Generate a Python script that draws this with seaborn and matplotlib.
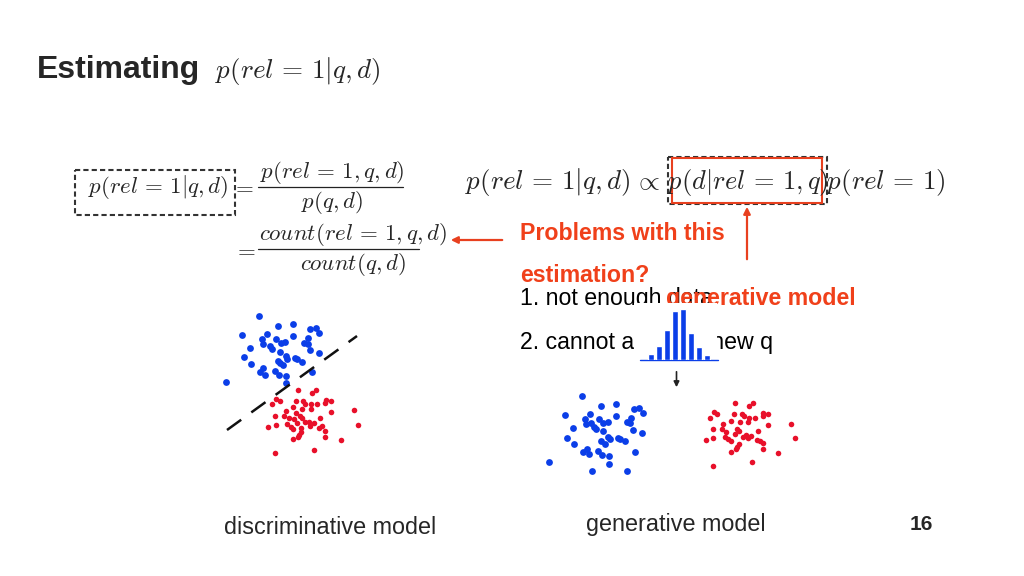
import numpy as np
import pandas as pd
import seaborn as sns
import matplotlib.pyplot as plt
from matplotlib.patches import Rectangle

# scatter points (pixel coords)
disc_blue_x = [259.3, 241.7, 277.7, 293.3, 310.3, 316, 319.3, 293, 266.7, 262.3, 276, 281, 285.3, 262.7,
               270, 272, 250, 304.3, 308.3, 307.7, 309.7, 280, 243.7, 286, 287, 277.7, 294.7, 297.3, 302,
               319, 251, 280.3, 282.7, 263.3, 260, 265.3, 275.3, 279.3, 286.3, 312.3, 286, 226.3]
disc_blue_y = [315.7, 335, 326, 324.3, 329, 328.3, 332.7, 336, 334.3, 338.7, 339.3, 342.7, 342.3, 344.3,
               346, 349.3, 347.7, 342.7, 338.3, 344, 350, 351.7, 357.3, 356, 359.3, 361, 358.3, 359.3, 361.7,
               353.3, 364, 363.3, 365, 368.3, 372.3, 374.7, 371, 375.3, 375.7, 372.3, 383, 382]
disc_red_x = [297.7, 316, 311.7, 276.3, 280, 271.7, 296, 303.3, 305.3, 311, 317.3, 325.7, 330.7, 325.3,
              293, 302.3, 311.3, 286.3, 275.3, 284, 288.7, 300, 302.3, 296, 330.7, 353.7, 320, 293.7, 304.7,
              297.3, 309.3, 314.3, 287, 276, 268, 290.7, 293.3, 301.3, 310, 319, 322, 325.3, 358, 301, 299.3,
              298, 325.3, 293.3, 341.3, 314.3, 275.3]
disc_red_y = [390.3, 390, 393.3, 399, 401, 404.3, 400.7, 401, 403.7, 404.3, 404.3, 400, 400.7, 403.3,
              407.3, 409, 409, 410.7, 416, 416, 418.3, 416, 418.3, 412.7, 412, 410.3, 417.7, 419.3, 422,
              423.3, 422, 423, 423.7, 424.7, 426.7, 427, 428.7, 427.7, 426, 428, 426, 430.7, 424.7, 432, 434.7,
              436.7, 436.7, 439.3, 440, 449.7, 453]

gen_blue_x = [582.3, 600.7, 616.3, 633.7, 638.7, 642.7, 564.7, 589.7, 585, 599, 616.3, 631, 585.7, 591.3,
              594, 596, 602.7, 608.3, 626.7, 630.3, 573, 633.3, 603.3, 642.3, 567, 607.7, 609.7, 600.7, 605,
              617.7, 619.7, 625.3, 573.7, 586.7, 583, 589.3, 598.3, 602.3, 609, 635, 549.3, 609, 592.3, 626.7]
gen_blue_y = [395.7, 406, 404.3, 409, 408.3, 413, 415, 414.3, 418.7, 419.3, 416.3, 417.7, 424.3, 423.3,
              426.7, 429.3, 422.7, 422.3, 422.3, 423.3, 427.7, 430, 431.3, 433.3, 437.7, 436.7, 439.3, 440.7,
              444.3, 438, 439.3, 441, 443.7, 448.7, 452, 454.3, 450.7, 455, 455.7, 452, 461.7, 463.7, 471, 471]
gen_red_x = [735.3, 749.3, 753.3, 714, 717.3, 709.7, 734, 741.7, 744, 748.7, 754.7, 762.7, 767.7, 762.7,
             730.7, 740, 748.3, 723.3, 768, 791, 713.3, 721.7, 737.3, 725.7, 739.3, 758.3, 746, 734.7, 743.3,
             751.3, 713.3, 705.7, 725, 728.3, 730.7, 747.7, 756.7, 760, 763, 795, 739, 737.3, 735.7, 762.7,
             731, 778.3, 751.7, 713]
gen_red_y = [403, 405.7, 403, 412, 414, 417.7, 414, 414, 416, 417.7, 418.3, 412.7, 413.7, 416, 420.7,
             422.3, 422, 424, 424.7, 423.7, 429, 429, 429, 431.7, 431, 430.7, 434.7, 434.3, 436.7, 436,
             437.7, 439.7, 436.7, 439.3, 440.7, 438.3, 440, 440.7, 443.3, 437.7, 443.7, 446.7, 449.3, 449.3,
             452, 453, 462.3, 466]

# little histogram of the generative model
hist_bins = ["b1", "b2", "b3", "b4", "b5", "b6", "b7", "b8"]
hist_heights = [6, 14, 30, 49, 51, 27, 13, 5]

BLUE = "#0b3ee8"
RED = "#e8102a"
ORANGE = "#f0401a"
W, H = 1024, 576

sns.set_theme(style="white")
plt.rcParams['font.family'] = ['Liberation Sans', 'DejaVu Sans']
plt.rcParams['mathtext.fontset'] = 'cm'

fig = plt.figure(figsize=(10.24, 5.76), dpi=100)
ax = fig.add_axes([0, 0, 1, 1])
ax.set_xlim(0, W)
ax.set_ylim(H, 0)
ax.axis("off")

EQ = r"\,=\,"

# title
ax.text(37, 70, "Estimating", fontsize=23, fontweight="bold", va="center", ha="left")
ax.text(215, 71, r"$p(rel" + EQ + r"1|q,d)$", fontsize=19.5, va="center", ha="left")

# left derivation
ax.text(88, 187, r"$p(rel" + EQ + r"1|q,d)$", fontsize=16.5, va="center", ha="left")
ax.add_patch(Rectangle((75, 170), 160, 45, fill=False, ec="#333333", lw=1.5, ls=(0, (2.5, 1.5))))
ax.text(231, 187, r"$=$", fontsize=16.5, va="center", ha="left")
ax.text(332, 172, r"$p(rel" + EQ + r"1,q,d)$", fontsize=16.5, va="center", ha="center")
ax.text(332, 203, r"$p(q,d)$", fontsize=16.5, va="center", ha="center")
ax.plot([258, 403], [187, 187], color="#222222", lw=0.9)
ax.text(233, 250, r"$=$", fontsize=16.5, va="center", ha="left")
ax.text(353, 234, r"$count(rel" + EQ + r"1,q,d)$", fontsize=16.5, va="center", ha="center")
ax.text(353, 265, r"$count(q,d)$", fontsize=16.5, va="center", ha="center")
ax.plot([258, 419], [249, 249], color="#222222", lw=0.9)

# right formula, in pieces so the boxes sit on the middle term
ax.text(465, 182, r"$p(rel" + EQ + r"1|q,d)$", fontsize=19.5, va="center", ha="left")
ax.text(647, 182, r"$\propto$", fontsize=19.5, va="center", ha="center")
ax.text(667, 182, r"$p(d|rel" + EQ + r"1,q)$", fontsize=19, va="center", ha="left")
ax.text(946, 182, r"$p(rel" + EQ + r"1)$", fontsize=19.5, va="center", ha="right")
ax.add_patch(Rectangle((668, 157), 159, 47, fill=False, ec="#333333", lw=1.5, ls=(0, (2.5, 1.5))))
ax.add_patch(Rectangle((672, 158), 150, 45, fill=False, ec="#e8401f", lw=1.5))

# red arrows
ax.annotate("", xy=(448, 240), xytext=(505, 240),
            arrowprops=dict(arrowstyle="-|>", color="#e8401f", lw=1.6, mutation_scale=10))
ax.annotate("", xy=(747, 204), xytext=(747, 262),
            arrowprops=dict(arrowstyle="-|>", color="#e8401f", lw=1.6, mutation_scale=10))

# red / black text
ax.text(520, 234, "Problems with this", fontsize=16.7, fontweight="bold", color=ORANGE, va="center")
ax.text(520, 275, "estimation?", fontsize=16.7, fontweight="bold", color=ORANGE, va="center")
ax.text(520, 298, "1. not enough data", fontsize=16.7, color="black", va="center")
ax.text(666, 298, "generative model", fontsize=16.7, fontweight="bold", color=ORANGE, va="center")
ax.text(520, 342, "2. cannot adapt to new q", fontsize=16.7, color="black", va="center")

# white image patch behind the histogram
ax.add_patch(Rectangle((634, 303), 83, 60, fc="white", ec="none", zorder=3))
ax.plot([640, 718], [359.5, 359.5], color=BLUE, lw=1, zorder=4)

hist_df = pd.DataFrame({"bin": hist_bins, "h": hist_heights})
axh = fig.add_axes([647 / W, (H - 359.5) / H, 64 / W, 55 / H])
sns.barplot(data=hist_df, x="bin", y="h", color=BLUE, saturation=1, width=0.8, ax=axh)
axh.set_xlim(-0.5, 7.5)
axh.set_ylim(0, 55)
axh.axis("off")

ax.annotate("", xy=(676.5, 390), xytext=(676.5, 369),
            arrowprops=dict(arrowstyle="-|>", color="#222222", lw=1.2, mutation_scale=8), zorder=5)

# discriminative scatter + separator
sns.scatterplot(x=disc_blue_x, y=disc_blue_y, color=BLUE, s=24, linewidth=0, ax=ax)
sns.scatterplot(x=disc_red_x, y=disc_red_y, color=RED, s=16, linewidth=0, ax=ax)
ax.plot([227, 357], [430, 336], color="#111111", lw=1.8, ls=(0, (7, 5)))

# generative scatter
sns.scatterplot(x=gen_blue_x, y=gen_blue_y, color=BLUE, s=24, linewidth=0, ax=ax)
sns.scatterplot(x=gen_red_x, y=gen_red_y, color=RED, s=16, linewidth=0, ax=ax)

# captions
ax.text(330, 527, "discriminative model", fontsize=16.8, ha="center", va="center")
ax.text(676, 524, "generative model", fontsize=16.8, ha="center", va="center")
ax.text(921, 524, "16", fontsize=15, fontweight="bold", ha="center", va="center")

ax.set_xlim(0, W)
ax.set_ylim(H, 0)
fig.savefig("out.png", dpi=100)
